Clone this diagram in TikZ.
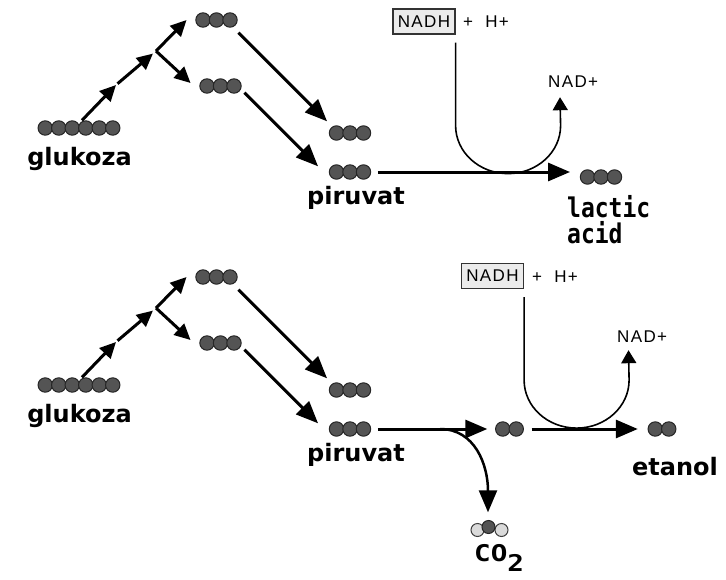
\documentclass[tikz,border=0pt]{standalone}
\usepackage{fontspec}
\usetikzlibrary{arrows.meta}
\newfontfamily\lblfont{DejaVu Sans}
\newfontfamily\typfont{DejaVu Sans Mono}
\newfontfamily\tinyfont{Liberation Sans}[LetterSpace=8]
\definecolor{beadgray}{HTML}{545454}
\definecolor{boxgray}{HTML}{EBEBEB}
\definecolor{lightbead}{HTML}{DADADA}

\tikzset{
  bead/.style={fill=beadgray, draw=black!85, line width=1pt},
  lightbeadst/.style={fill=lightbead, draw=black!75, line width=1pt},
  bigarrow/.style={line width=3pt, -{Triangle[length=22pt,width=18pt]}},
  smallarrow/.style={line width=3pt, -{Triangle[length=16pt,width=15pt]}},
  thinarrow/.style={line width=1.6pt, -{Triangle[length=13pt,width=15pt]}},
  mol/.style={inner sep=0pt, minimum height=15pt, minimum width=#1},
  lbl/.style={font=\lblfont\bfseries\fontsize{24}{24}\selectfont, anchor=base, inner sep=0pt},
  mono/.style={font=\typfont\bfseries\fontsize{23}{23}\selectfont, anchor=base west, inner sep=0pt},
  chem/.style={font=\tinyfont\fontsize{17}{17}\selectfont, anchor=base west, inner sep=0pt},
  nadbox/.style={draw=black!80, fill=boxgray, line width=1.2pt, minimum width=62pt,
    minimum height=25pt, inner sep=0pt, font=\tinyfont\fontsize{17}{17}\selectfont},
}

% a chain of #2 beads named #1 centred at (#3,#4)
\newcommand\mol[4]{%
  \node[mol={#2*13.5pt+1pt}] (#1) at (#3,#4) {};
  \foreach \k in {1,...,#2}
    \draw[bead] ([shift={({(\k-(#2+1)/2)*13.5},0)}]#1.center) circle (7.2);
}

\begin{document}
\begin{tikzpicture}[x=1pt,y=-1pt]
\useasboundingbox (0,0) rectangle (726,579);

% glucose splitting, the same in both rows
\foreach \r/\dy in {a/0,b/257}{
\begin{scope}[shift={(0,\dy)}]
\mol{glc\r}{6}{79}{128}
\node[lbl] (glclbl\r) at (79.5,165) {glukoza};
\coordinate (step\r) at (116,85);
\coordinate (fork\r) at (156,51);
\mol{upper\r}{3}{216.5}{20}
\mol{lower\r}{3}{220.5}{86}
\mol{pyrA\r}{3}{350}{133}
\mol{pyrB\r}{3}{350}{172}
\node[lbl] (pyrlbl\r) at (356,204) {piruvat};

\draw[smallarrow] ([shift={(3,0)}]glc\r.north) -- (step\r);
\draw[smallarrow, shorten <=2pt, shorten >=4pt] (step\r) -- (fork\r);
\draw[smallarrow] (fork\r) -- ([shift={(-9,0)}]upper\r.west);
\draw[smallarrow] (fork\r) -- ([shift={(-9,-3)}]lower\r.west);
\draw[bigarrow] ([shift={(1,5)}]upper\r.south east) -- ([shift={(-2,-4)}]pyrA\r.north west);
\draw[bigarrow] ([shift={(3,-1)}]lower\r.south east) -- ([shift={(-11,2)}]pyrB\r.north west);
\end{scope}
}

% lactic acid
\mol{lac}{3}{601}{177}
\node[mono] (lactic) at (567,217) {\scalebox{1}[1.18]{lactic}};
\node[mono] (acid) at (567,243) {\scalebox{1}[1.18]{acid}};
\draw[bigarrow, shorten <=7pt, shorten >=10pt] (pyrBa.east) -- (pyrBa.east -| lac.west);

\node[nadbox] (nadha) at (424,21.5) {NADH};
\node[chem] (hplusa) at (463,27) {+\ \ H+};
\node[chem] (nadpa) at (548,87) {NAD+};
\draw[thinarrow] ([shift={(0,8)}]nadha.south east) -- ++(0,83)
  arc[start angle=180, end angle=0, x radius=52.5, y radius=48]
  -- ([shift={(12,10)}]nadpa.south west);

% ethanol
\mol{ald}{2}{509.5}{429}
\mol{eth}{2}{662}{429}
\node[lbl] (ethlbl) at (675,475) {etanol};
\draw[bigarrow, shorten <=7pt, shorten >=8pt] (pyrBb.east) -- (ald.west);
\draw[bigarrow, shorten <=8pt, shorten >=10pt] (ald.east) -- (eth.west);

\node[nadbox] (nadhb) at (492.5,276) {NADH};
\node[chem] (hplusb) at (532,282) {+\ \ H+};
\node[chem] (nadpb) at (617,342) {NAD+};
\draw[thinarrow] ([shift={(0,8)}]nadhb.south east) -- ++(0,83)
  arc[start angle=180, end angle=0, x radius=52.5, y radius=48]
  -- ([shift={(11.5,8)}]nadpb.south west);

% carbon dioxide
\coordinate (branch) at (440,429);
\node[mol=40pt] (co2) at (489.5,530) {};
\draw[lightbeadst] ([shift={(-12,0)}]co2.center) circle (6.5);
\draw[lightbeadst] ([shift={(12,0)}]co2.center) circle (6.5);
\draw[bead] ([shift={(-1,-3)}]co2.center) circle (6.5);
\node[mono] (co2lbl) at (474,561) {\scalebox{1.2}[1]{CO\raisebox{-10pt}{2}}};
\draw[bigarrow, line width=2.5pt, shorten >=10pt] (branch) .. controls (475,429) and (488,465) .. ([shift={(-1.5,0)}]co2.north);
\end{tikzpicture}
\end{document}
